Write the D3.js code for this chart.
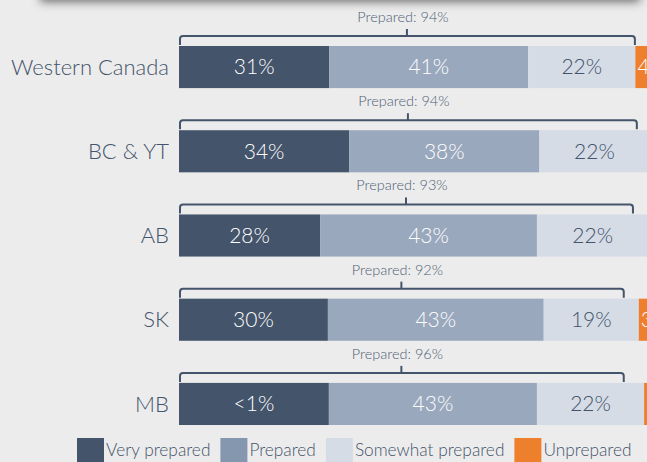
<!DOCTYPE html>
<html>
<head>
<meta charset="utf-8">
<script src="https://cdn.jsdelivr.net/npm/d3@7"></script>
<style>
  html, body { margin: 0; padding: 0; background: #ececec; overflow: hidden; }
  svg { display: block; font-family: Lato, 'Open Sans', sans-serif; font-weight: 300; }
</style>
</head>
<body>
<div id="chart"></div>
<script>
// regions
const categories = ['Western Canada', 'BC & YT', 'AB', 'SK', 'MB'];

// segment widths (percent)
const veryPrepared = [31, 35.1, 29.1, 30.7, 30.9];
const prepared = [41, 39.2, 44.7, 44.5, 42.9];
const somewhatPrepared = [22.1, 22.7, 23, 19.6, 22.1];
const unprepared = [4, 3, 3, 3, 2];

// printed labels
const veryLabels = ['31%', '34%', '28%', '30%', '<1%'];
const preparedLabels = ['41%', '38%', '43%', '43%', '43%'];
const somewhatLabels = ['22%', '22%', '22%', '19%', '22%'];
const unpreparedLabels = ['4%', '3%', '3%', '3%', '2%'];

// "Prepared" bracket above each bar
const bracketTotals = ['94%', '94%', '93%', '92%', '96%'];
const bracketEnds = [94, 94.4, 93.6, 91.7, 91.7];

const seriesNames = ['Very prepared', 'Prepared', 'Somewhat prepared', 'Unprepared'];
const colors = ['#44546b', '#9aa8bd', '#d5dce6', '#ee7f2d'];
const legendColors = ['#44546b', '#8597af', '#d5dce6', '#ee7f2d'];
const textColors = ['#ffffff', '#ffffff', '#44546b', '#ffffff'];

const width = 647;
const height = 462;

const svg = d3.select('#chart').append('svg')
  .attr('width', width)
  .attr('height', height);

// shadow of the panel above
const defs = svg.append('defs');
defs.append('filter').attr('id', 'blur')
  .attr('x', '-10%').attr('y', '-200%').attr('width', '120%').attr('height', '500%')
  .append('feGaussianBlur').attr('stdDeviation', 5);
svg.append('rect')
  .attr('x', 40).attr('y', -30).attr('width', 600).attr('height', 32)
  .attr('fill', '#707070')
  .attr('filter', 'url(#blur)');

const x = d3.scaleLinear().domain([0, 100]).range([179, 664]);
const y = d3.scaleBand().domain(categories).range([46, 425]).paddingInner(0.5).paddingOuter(0);

const rows = categories.map(function(c, i) {
  return { cat: c, values: [veryPrepared[i], prepared[i], somewhatPrepared[i], unprepared[i]],
    labels: [veryLabels[i], preparedLabels[i], somewhatLabels[i], unpreparedLabels[i]] };
});

const stack = d3.stack().keys([0, 1, 2, 3]).value(function(d, k) { return d.values[k]; });
const series = stack(rows);

const groups = svg.selectAll('.series')
  .data(series)
  .enter().append('g')
  .attr('class', 'series');

groups.selectAll('rect')
  .data(function(s) { return s.map(function(d) { return { k: s.key, d: d }; }); })
  .enter().append('rect')
  .attr('x', function(e) { return x(e.d[0]); })
  .attr('y', function(e) { return y(e.d.data.cat); })
  .attr('width', function(e) { return x(e.d[1]) - x(e.d[0]); })
  .attr('height', y.bandwidth())
  .attr('fill', function(e) { return colors[e.k]; });

// segment labels; the small unprepared ones sit at the start of their segment
groups.selectAll('text')
  .data(function(s) { return s.map(function(d) { return { k: s.key, d: d }; }); })
  .enter().append('text')
  .attr('x', function(e) { return e.k === 3 ? x(e.d[0]) + 2 : (x(e.d[0]) + x(e.d[1])) / 2; })
  .attr('y', function(e) { return y(e.d.data.cat) + y.bandwidth() / 2; })
  .attr('dy', '0.35em')
  .attr('text-anchor', function(e) { return e.k === 3 ? 'start' : 'middle'; })
  .attr('font-size', 21)
  .attr('fill', function(e) { return textColors[e.k]; })
  .text(function(e) { return e.d.data.labels[e.k]; });

// category labels
svg.selectAll('.cat')
  .data(categories)
  .enter().append('text')
  .attr('class', 'cat')
  .attr('x', 169)
  .attr('y', function(d) { return y(d) + y.bandwidth() / 2; })
  .attr('dy', '0.35em')
  .attr('text-anchor', 'end')
  .attr('font-size', 22)
  .attr('fill', '#44546b')
  .text(function(d) { return d; });

// brackets
const br = svg.selectAll('.bracket')
  .data(categories)
  .enter().append('g')
  .attr('class', 'bracket');

br.append('path')
  .attr('fill', 'none')
  .attr('stroke', '#44546b')
  .attr('stroke-width', 2)
  .attr('d', function(d, i) {
    const top = y(d);
    const x0 = x(0) + 1, x1 = x(bracketEnds[i]);
    const ly = top - 10, r = 3;
    return 'M' + x0 + ',' + (top - 1) + 'V' + (ly + r) + 'Q' + x0 + ',' + ly + ' ' + (x0 + r) + ',' + ly +
      'H' + (x1 - r) + 'Q' + x1 + ',' + ly + ' ' + x1 + ',' + (ly + r) + 'V' + (top - 1);
  });

br.append('line')
  .attr('stroke', '#44546b')
  .attr('stroke-width', 2)
  .attr('x1', function(d, i) { return (x(0) + x(bracketEnds[i])) / 2; })
  .attr('x2', function(d, i) { return (x(0) + x(bracketEnds[i])) / 2; })
  .attr('y1', function(d) { return y(d) - 10; })
  .attr('y2', function(d) { return y(d) - 17; });

br.append('text')
  .attr('x', function(d, i) { return (x(0) + x(bracketEnds[i])) / 2 - 4; })
  .attr('y', function(d) { return y(d) - 24; })
  .attr('text-anchor', 'middle')
  .attr('font-size', 14.5)
  .attr('fill', '#4f5f75')
  .text(function(d, i) { return 'Prepared: ' + bracketTotals[i]; });

// legend
const legend = svg.append('g').attr('class', 'legend');
let lx = 77;
seriesNames.forEach(function(name, i) {
  legend.append('rect')
    .attr('x', lx).attr('y', 438)
    .attr('width', 27).attr('height', 24)
    .attr('fill', legendColors[i]);
  const t = legend.append('text')
    .attr('x', lx + 29).attr('y', 456)
    .attr('font-size', 17.3)
    .attr('fill', '#44546b')
    .text(name);
  lx += 29 + t.node().getComputedTextLength() + 10;
});
</script>
</body>
</html>
